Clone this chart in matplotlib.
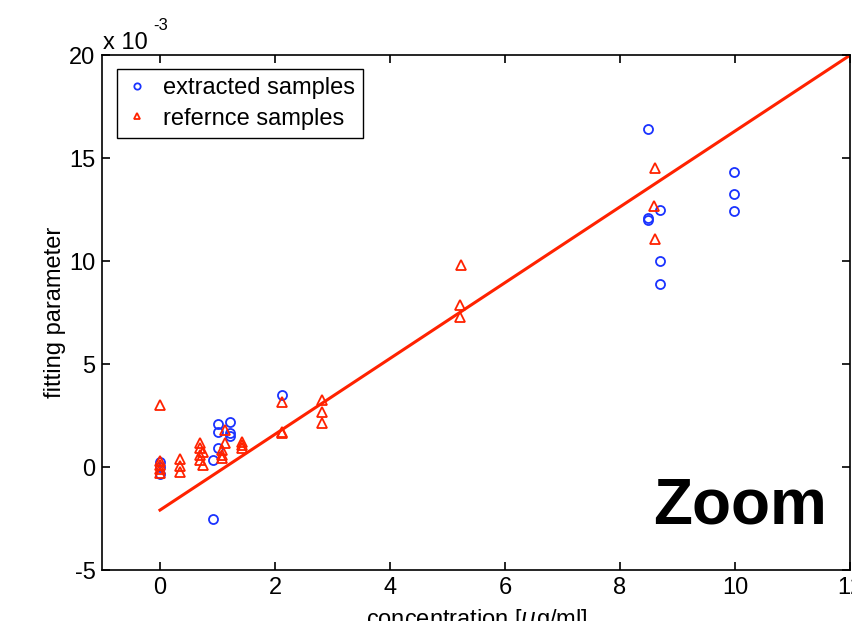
import matplotlib.pyplot as plt
import numpy as np

plt.rcParams['font.family'] = ['Liberation Sans', 'DejaVu Sans']
plt.rcParams['axes.unicode_minus'] = False

# fitting parameter values are in units of 1e-3
ext_conc = [0, 0, 0, 0.93, 0.93, 1.01, 1.01, 1.01, 1.22, 1.22, 1.22, 2.12,
            8.49, 8.49, 8.49, 8.70, 8.70, 8.70, 9.99, 9.99, 9.99]
ext_fit = [0.22, 0.0, -0.35, 0.34, -2.54, 2.09, 1.71, 0.94, 2.2, 1.63, 1.5, 3.5,
           16.4, 12.1, 12.0, 12.48, 10.0, 8.9, 14.3, 13.27, 12.44]

ref_conc = [0, 0, 0, 0, 0, 0.35, 0.35, 0.35, 0.70, 0.70, 0.75, 0.70, 0.70,
            0.75, 1.07, 1.07, 1.07, 1.13, 1.13, 1.42, 1.42, 1.42,
            2.12, 2.12, 2.12, 2.81, 2.81, 2.81, 5.23, 5.22, 5.22,
            8.61, 8.59, 8.61]
ref_fit = [3.0, 0.3, 0.1, -0.1, -0.3, 0.39, 0.05, -0.23, 1.17, 0.92, 0.74, 0.58, 0.34,
           0.1, 0.83, 0.58, 0.42, 1.8, 1.15, 1.23, 1.07, 0.94,
           3.17, 1.71, 1.63, 3.25, 2.68, 2.12, 9.8, 7.86, 7.3,
           14.5, 12.67, 11.05]

fit_slope = 1.84
fit_intercept = -2.09
fit_x = np.array([0, 12.5])

fig = plt.figure(figsize=(8.52, 6.21), dpi=100)
ax = fig.add_axes([0.1203, 0.0821, 0.8774, 0.8293])

ax.plot(fit_x, fit_slope * fit_x + fit_intercept, color='#ff2200', lw=2.2, zorder=2)
ax.plot(ext_conc, ext_fit, 'o', mfc='none', mec='#1a33ff', mew=1.3, ms=6.5,
        ls='none', label='extracted samples', zorder=3)
ax.plot(ref_conc, ref_fit, '^', mfc='none', mec='#ff2200', mew=1.3, ms=7,
        ls='none', label='refernce samples', zorder=3)

ax.set_xlim(-1, 12)
ax.set_ylim(-5, 20)
ax.set_xticks([0, 2, 4, 6, 8, 10, 12])
ax.set_yticks([-5, 0, 5, 10, 15, 20])
ax.tick_params(direction='in', top=True, right=True, labelsize=17, length=6,
               width=1.2, pad=5)
for s in ax.spines.values():
    s.set_linewidth(1.2)

ax.set_xlabel(r'concentration [$\mu$g/ml]', fontsize=17, labelpad=6)
ax.set_ylabel('fitting parameter', fontsize=17, labelpad=2.5)

fig.text(103 / 852, 1 - 43 / 621, 'x 10', fontsize=17, va='center', ha='left')
fig.text(153 / 852, 1 - 26 / 621, '-3', fontsize=12, va='center', ha='left')

leg = ax.legend(loc='upper left', fontsize=17, markerscale=0.7, handlelength=1.0,
                handletextpad=0.6, borderaxespad=0.6, fancybox=False,
                edgecolor='black', framealpha=1, borderpad=0.35, labelspacing=0.35)
leg.get_frame().set_linewidth(1.0)

fig.text(740 / 852, 1 - 506 / 621, 'Zoom', fontsize=46, fontweight='bold',
         ha='center', va='center')

fig.savefig('out.png', dpi=100)
